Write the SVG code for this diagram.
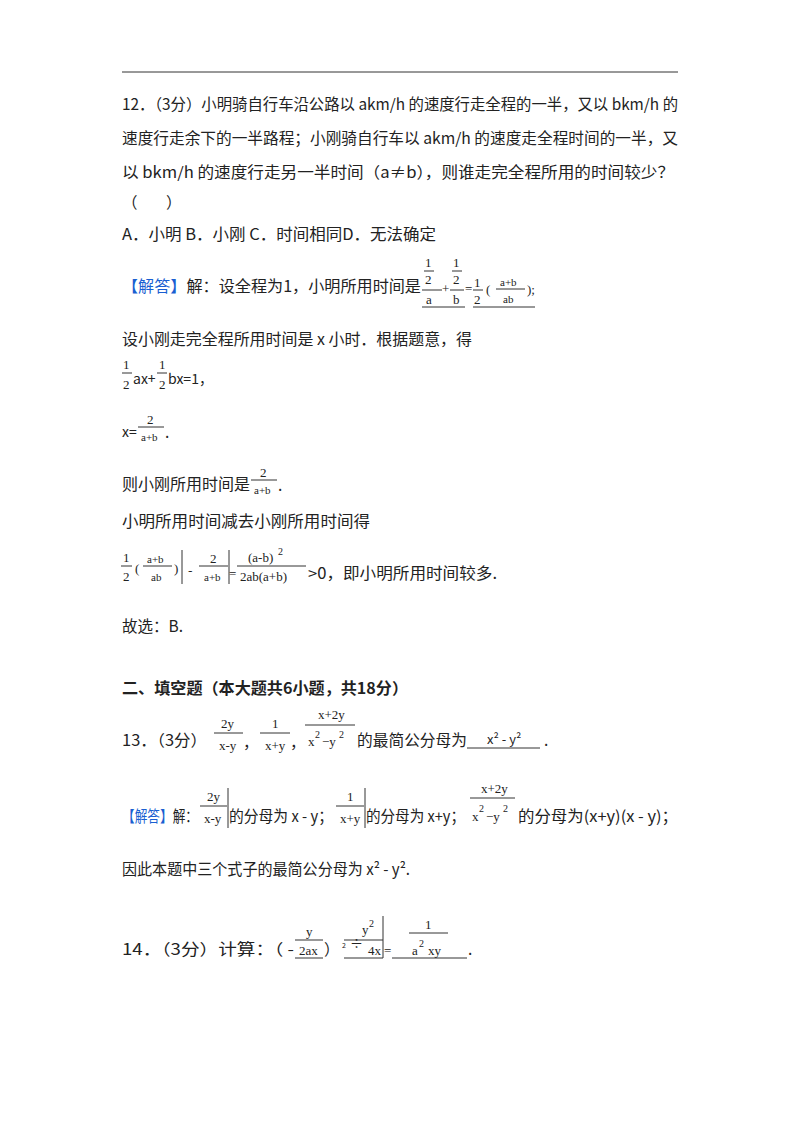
<svg xmlns="http://www.w3.org/2000/svg" width="800" height="1132" viewBox="0 0 800 1132">
<style>
text{font-family:"Noto Sans CJK SC","Liberation Sans",sans-serif;font-size:15.5px;fill:#222}
text.m{font-family:"Liberation Serif","Noto Sans CJK SC",serif;font-size:13px}
text.t{font-size:11px}
text.s{font-size:10px}
text.x{font-size:7px}
text.k{font-size:14px}
text.d{font-size:13px}
.b{fill:#1a5fd1}
.h{font-weight:bold}
line{stroke:#333;stroke-width:1}
</style>
<rect width="800" height="1132" fill="#fff"/>
<line x1="122" y1="72" x2="678" y2="72" stroke-width="1.5"/>
<text x="122" y="110" textLength="556" lengthAdjust="spacingAndGlyphs">12．（3分）小明骑自行车沿公路以 akm/h 的速度行走全程的一半，又以 bkm/h 的</text>
<text x="122" y="144" textLength="556" lengthAdjust="spacingAndGlyphs">速度行走余下的一半路程；小刚骑自行车以 akm/h 的速度走全程时间的一半，又</text>
<text x="122" y="178" textLength="552" lengthAdjust="spacingAndGlyphs">以 bkm/h 的速度行走另一半时间（a≠b），则谁走完全程所用的时间较少？</text>
<text x="122" y="208">（</text><text x="166" y="208">）</text>
<text x="122" y="240" textLength="314" lengthAdjust="spacingAndGlyphs">A．小明 B．小刚 C．时间相同D．无法确定</text>
<g id="ans12">
<text x="122" y="292" textLength="299" lengthAdjust="spacingAndGlyphs"><tspan class="b">【解答】</tspan>解：设全程为1，小明所用时间是</text>
<text class="m" x="425" y="267">1</text><line x1="424" y1="271" x2="434" y2="271"/><text class="m" x="425" y="284">2</text>
<line x1="422" y1="290" x2="442" y2="290"/><text class="m" x="426" y="304">a</text>
<text class="m" x="442" y="293">+</text>
<text class="m" x="453" y="267">1</text><line x1="452" y1="271" x2="462" y2="271"/><text class="m" x="453" y="284">2</text>
<line x1="450" y1="290" x2="464" y2="290"/><text class="m" x="453" y="304">b</text>
<line x1="422" y1="307" x2="465" y2="307"/>
<text class="m" x="465" y="293">=</text>
<text class="m" x="474" y="287">1</text><line x1="473" y1="290" x2="483" y2="290"/><text class="m" x="474" y="304">2</text>
<text class="m" x="486" y="294">(</text>
<text class="m t" x="500" y="286">a+b</text><line x1="496" y1="289" x2="525" y2="289"/><text class="m t" x="503" y="303">ab</text>
<text class="m" x="527" y="294">);</text>
<line x1="473" y1="307" x2="535" y2="307"/>
</g>
<text x="122" y="345" textLength="350" lengthAdjust="spacingAndGlyphs">设小刚走完全程所用时间是 x 小时．根据题意，得</text>
<g id="eq1">
<text class="m" x="123" y="369">1</text><line x1="122" y1="373" x2="132" y2="373"/><text class="m" x="123" y="389">2</text>
<text class="k" x="133" y="384">ax+</text>
<text class="m" x="159" y="369">1</text><line x1="157" y1="373" x2="167" y2="373"/><text class="m" x="159" y="389">2</text>
<text class="k" x="168" y="384">bx=1，</text>
</g>
<g id="eq2">
<text class="k" x="122" y="437">x=</text>
<text class="m" x="147" y="424">2</text><line x1="138" y1="427" x2="164" y2="427"/><text class="m t" x="141" y="441">a+b</text>
<text x="165" y="438">.</text>
</g>
<g id="eq3">
<text x="122" y="490" textLength="128" lengthAdjust="spacingAndGlyphs">则小刚所用时间是</text>
<text class="m" x="260" y="477">2</text><line x1="251" y1="480" x2="277" y2="480"/><text class="m t" x="254" y="494">a+b</text>
<text x="278" y="491">.</text>
</g>
<text x="122" y="527" textLength="248" lengthAdjust="spacingAndGlyphs">小明所用时间减去小刚所用时间得</text>
<g id="eq4">
<text class="m" x="123" y="562">1</text><line x1="121" y1="566" x2="132" y2="566"/><text class="m" x="123" y="581">2</text>
<text class="m" x="135" y="573">(</text>
<text class="m t" x="147" y="563">a+b</text><line x1="143" y1="566" x2="172" y2="566"/><text class="m t" x="151" y="581">ab</text>
<text class="m" x="174" y="573">)</text>
<line x1="182" y1="550" x2="182" y2="584"/>
<text class="d" x="188" y="575">-</text>
<text class="m" x="210" y="563">2</text><line x1="199" y1="566" x2="228" y2="566"/><text class="m t" x="204" y="581">a+b</text>
<line x1="229" y1="550" x2="229" y2="584"/>
<text class="m" x="229" y="578">=</text>
<text class="m" x="248" y="562">(a-b)</text><text class="m s" x="278" y="555">2</text>
<line x1="237" y1="566" x2="306" y2="566"/>
<text class="m" x="240" y="581">2ab(a+b)</text>
<text x="308" y="579" textLength="189" lengthAdjust="spacingAndGlyphs">&gt;0，即小明所用时间较多.</text>
</g>
<text x="122" y="632">故选：B.</text>
<text class="h" x="122" y="694" textLength="286" lengthAdjust="spacingAndGlyphs">二、填空题（本大题共6小题，共18分）</text>
<g id="q13">
<text x="122" y="746" textLength="85" lengthAdjust="spacingAndGlyphs">13．（3分）</text>
<text class="m" x="221" y="728">2y</text><line x1="214" y1="733" x2="243" y2="733"/><text class="m" x="219" y="750">x-y</text>
<text x="243" y="748">，</text>
<text class="m" x="272" y="728">1</text><line x1="260" y1="733" x2="290" y2="733"/><text class="m" x="265" y="750">x+y</text>
<text x="290" y="748">，</text>
<text class="m" x="318" y="719">x+2y</text><line x1="305" y1="725" x2="355" y2="725"/>
<text class="m" x="308" y="746">x</text><text class="m s" x="315" y="738">2</text><text class="m" x="322" y="746">−y</text><text class="m s" x="339" y="738">2</text>
<text x="357" y="746" textLength="110" lengthAdjust="spacingAndGlyphs">的最简公分母为</text>
<text class="d" x="487" y="744">x² - y²</text>
<line x1="467" y1="748" x2="540" y2="748"/>
<text x="544" y="746">.</text>
</g>
<g id="ans13">
<text x="122" y="822" textLength="76" lengthAdjust="spacingAndGlyphs"><tspan class="b">【解答】</tspan>解：</text>
<text class="m" x="207" y="801">2y</text><line x1="200" y1="806" x2="227" y2="806"/><text class="m" x="204" y="823">x-y</text>
<line x1="228" y1="788" x2="228" y2="828"/>
<text x="229" y="822" textLength="104" lengthAdjust="spacingAndGlyphs">的分母为 x - y；</text>
<text class="m" x="347" y="801">1</text><line x1="336" y1="806" x2="364" y2="806"/><text class="m" x="340" y="823">x+y</text>
<line x1="365" y1="788" x2="365" y2="828"/>
<text x="366" y="822" textLength="99" lengthAdjust="spacingAndGlyphs">的分母为 x+y；</text>
<text class="m" x="481" y="793">x+2y</text><line x1="470" y1="798" x2="515" y2="798"/>
<text class="m" x="472" y="821">x</text><text class="m s" x="479" y="812">2</text><text class="m" x="486" y="821">−y</text><text class="m s" x="503" y="812">2</text>
<text x="518" y="822" textLength="160" lengthAdjust="spacingAndGlyphs">的分母为(x+y)(x - y)；</text>
</g>
<text x="122" y="875" textLength="288" lengthAdjust="spacingAndGlyphs">因此本题中三个式子的最简公分母为 x² - y².</text>
<g id="q14">
<text x="122" y="955" textLength="172" lengthAdjust="spacingAndGlyphs">14．（3分）计算：（ -</text>
<text class="m" x="306" y="936">y</text><line x1="295" y1="940" x2="323" y2="940"/><text class="m" x="299" y="955">2ax</text>
<line x1="295" y1="958" x2="323" y2="958"/>
<text x="324" y="955">）</text>
<text class="x" x="342" y="948">2</text>
<text class="d" x="350" y="948">÷</text>
<text class="m" x="362" y="934">y</text><text class="m s" x="369" y="927">2</text>
<line x1="344" y1="940" x2="383" y2="940"/>
<text class="m" x="368" y="955">4x</text>
<line x1="344" y1="958" x2="383" y2="958"/>
<line x1="383" y1="916" x2="383" y2="958"/>
<text class="m" x="384" y="955">=</text>
<text class="m" x="425" y="929">1</text><line x1="409" y1="933" x2="448" y2="933"/>
<text class="m" x="412" y="955">a</text><text class="m s" x="419" y="947">2</text><text class="m" x="428" y="955">xy</text>
<line x1="392" y1="958" x2="467" y2="958"/>
<text x="468" y="955">.</text>
</g>
</svg>
